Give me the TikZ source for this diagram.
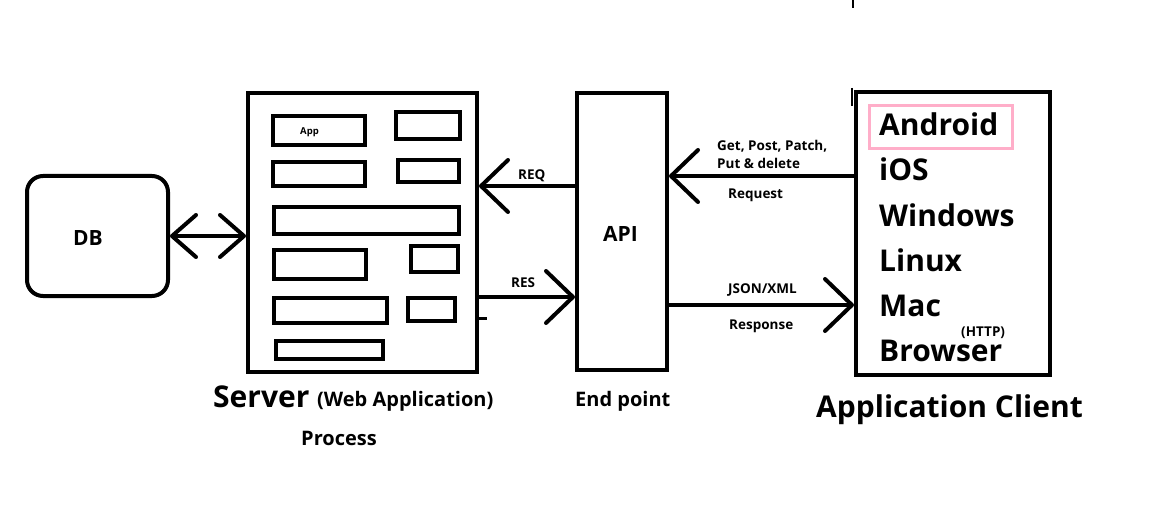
\documentclass[tikz,border=0pt]{standalone}
\usepackage{fontspec}
\setmainfont{Open Sans}
\usetikzlibrary{arrows.meta,positioning}
\definecolor{rosepink}{RGB}{255,174,201}

\begin{document}
\begin{tikzpicture}[x=1pt, y=-1pt, inner sep=0pt]

            % Define block styles
            \tikzstyle{box} = [rectangle, draw, line width=4pt, sharp corners]
            \tikzstyle{slot} = [rectangle, draw, line width=3.5pt]
            \tikzstyle{line} = [draw, line width=4pt, -{Straight Barb[length=27pt, width=52pt, round]}]
            \tikzstyle{both} = [draw, line width=4pt, {Straight Barb[length=24pt, width=42pt, round]}-{Straight Barb[length=24pt, width=42pt, round]}]
            \tikzstyle{txt} = [anchor=base west, inner sep=0pt, font=\bfseries\fontsize{13.5}{16}\selectfont]
            \tikzstyle{mid} = [txt, font=\bfseries\fontsize{20}{24}\selectfont]
            \tikzstyle{big} = [txt, font=\bfseries\fontsize{30}{36}\selectfont]

            \useasboundingbox (0,0) rectangle (1149,508);

            % Nodes
            \node [box, rounded corners=16pt, minimum width=141, minimum height=120] (db) at (97.5,236) {};
            \node [box, minimum width=229, minimum height=279] (server) at (362.5,232.5) {};
            \node [box, minimum width=90, minimum height=277] (api) at (622,231.5) {};
            \node [box, minimum width=194, minimum height=283] (client) at (953,233.5) {};

            % inside the server
            \node [slot, minimum width=92, minimum height=29] (app) at (319,130.5) {};
            \node [slot, minimum width=64, minimum height=27] (s1) at (428,125.5) {};
            \node [slot, minimum width=92, minimum height=24] (s2) at (319,174) {};
            \node [slot, minimum width=61, minimum height=22] (s3) at (428.5,171) {};
            \node [slot, minimum width=185, minimum height=27] (s4) at (366.5,220.5) {};
            \node [slot, minimum width=92, minimum height=29] (s5) at (320,264.5) {};
            \node [slot, minimum width=47, minimum height=26] (s6) at (434.5,259) {};
            \node [slot, minimum width=113, minimum height=25] (s7) at (330.5,310.5) {};
            \node [slot, minimum width=47, minimum height=23] (s8) at (431.5,309.5) {};
            \node [slot, minimum width=107, minimum height=18] (s9) at (329.5,350) {};
            \node [txt, font=\bfseries\fontsize{9.5}{11}\selectfont] (applbl) at (300,135) {App};

            \node [draw=rosepink, line width=3pt, minimum width=143, minimum height=43] (mark) at (940.5,127.5) {};

            % Texts
            \node [mid, font=\bfseries\fontsize{21}{24}\selectfont] (dblbl) at (73,245) {DB};
            \node [mid, font=\bfseries\fontsize{21}{24}\selectfont] (apilbl) at (603,241) {API};
            \node [mid] (endpoint) at (575,406) {End point};
            \node [big] (serverlbl) at (213,407) {Server};
            \node [mid] (weblbl) at (317,406) {(Web Application)};
            \node [mid] (process) at (301,445) {Process};
            \node [big] (clientlbl) at (816,417) {Application Client};

            \node [big] (android) at (879,136) {Android};
            \node [big] (ios) at (879,181) {iOS};
            \node [big] (windows) at (879,226) {Windows};
            \node [big] (linux) at (879,271) {Linux};
            \node [big] (mac) at (879,316) {Mac};
            \node [big] (browser) at (879,361) {Browser};
            \node [txt] (http) at (961,336) {(HTTP)};

            \node [txt] (reqlbl) at (518,179) {REQ};
            \node [txt] (reslbl) at (511,287) {RES};
            \node [txt] (verbs1) at (717,150) {Get, Post, Patch,};
            \node [txt] (verbs2) at (717,168) {Put \& delete};
            \node [txt] (request) at (728,198) {Request};
            \node [txt] (format) at (728,293) {JSON/XML};
            \node [txt] (response) at (729,329) {Response};

            % Arrows
            \coordinate (reqy) at (0,186);
            \coordinate (resy) at (0,297);
            \coordinate (gety) at (0,176);
            \coordinate (jsony) at (0,305);
            \path [both] (db.east) -- (server.west |- db.east);
            \path [line] (api.west |- reqy) -- (server.east |- reqy);
            \path [line] (server.east |- resy) -- (api.west |- resy);
            \path [line] (client.west |- gety) -- (api.east |- gety);
            \path [line] (api.east |- jsony) -- (client.west |- jsony);

            % stray marks
            \draw [line width=1.5pt] (853,0) -- (853,8);
            \draw [line width=1.5pt] (852,88) -- (852,106);
            \draw [line width=3pt] (server.east |- 0,318) -- ++(8,0);

        \end{tikzpicture}
\end{document}
